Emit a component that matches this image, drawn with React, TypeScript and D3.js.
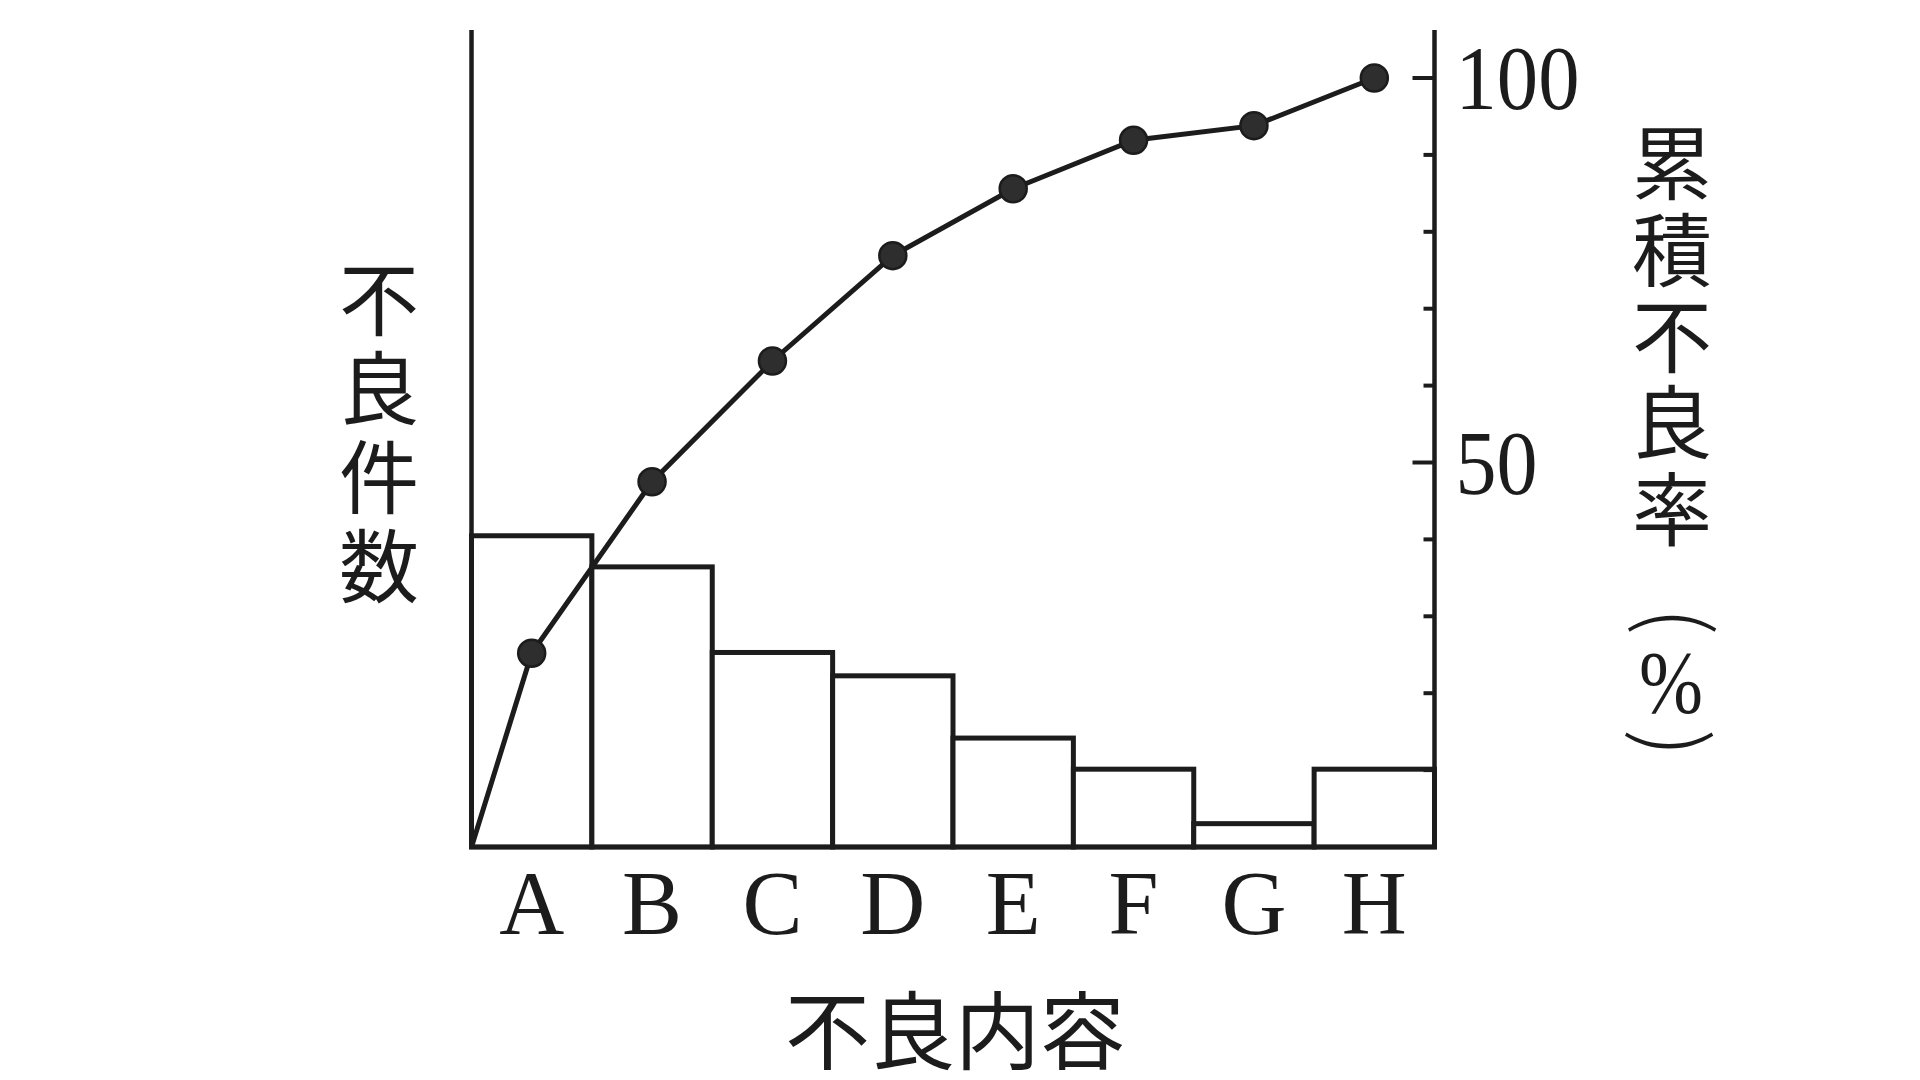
import React from 'react';
import * as d3 from 'd3';

// 不良内容ごとの件数（パレート図）
const categories = ['A', 'B', 'C', 'D', 'E', 'F', 'G', 'H'];
const defectCounts = [40, 36, 25, 22, 14, 10, 3, 10];
// 累積不良率 (%)
const cumulativePct = [25.2, 47.5, 63.2, 76.9, 85.6, 91.9, 93.8, 100];
const pctTicks = [10, 20, 30, 40, 50, 60, 70, 80, 90, 100];
const pctLabels = [50, 100];
const countMax = 105;

const leftTitle = '不良件数';
const rightTitle = '累積不良率';
const xTitle = '不良内容';

const SERIF = '"Liberation Serif", "DejaVu Serif", serif';
const CJK = '"Noto Sans CJK JP", "Noto Sans CJK SC", sans-serif';
const INK = '#1c1c1c';

const App: React.FC = () => {
  const width = 1920;
  const height = 1080;
  const left = 471.5;
  const right = 1434.5;
  const bottom = 847;
  const top = 30;

  const x = d3.scaleBand<string>().domain(categories).range([left, right]).padding(0);
  const yCount = d3.scaleLinear().domain([0, countMax]).range([bottom, top]);
  const yPct = d3.scaleLinear().domain([0, 100]).range([bottom, 78]);

  const cx = (c: string) => (x(c) ?? 0) + x.bandwidth() / 2;

  const linePts = [[left, yPct(0)] as [number, number]].concat(
    categories.map((c, i) => [cx(c), yPct(cumulativePct[i])] as [number, number])
  );
  const line = d3.line<[number, number]>().x(d => d[0]).y(d => d[1]);

  const vertical = (spacing: number): React.CSSProperties => ({
    writingMode: 'vertical-rl' as any,
    letterSpacing: `${spacing}px`,
  });

  return (
    <svg width={width} height={height} style={{ position: 'absolute', left: 0, top: 0, background: '#fff' }}>
      {/* bars */}
      {categories.map((c, i) => (
        <rect
          key={c}
          x={x(c)}
          y={yCount(defectCounts[i])}
          width={x.bandwidth()}
          height={bottom - yCount(defectCounts[i])}
          fill="#fff"
          stroke={INK}
          strokeWidth={5}
        />
      ))}

      {/* axes */}
      <line x1={left} x2={left} y1={top} y2={bottom} stroke={INK} strokeWidth={4.5} />
      <line x1={right} x2={right} y1={top} y2={bottom} stroke={INK} strokeWidth={4.5} />
      <line x1={left - 2} x2={right + 2} y1={bottom} y2={bottom} stroke={INK} strokeWidth={4.5} />

      {pctTicks.map(t => (
        <line
          key={t}
          x1={right}
          x2={right - (pctLabels.includes(t) ? 22 : 11)}
          y1={yPct(t)}
          y2={yPct(t)}
          stroke={INK}
          strokeWidth={4}
        />
      ))}
      {pctLabels.map(t => (
        <text
          key={t}
          x={right + 21}
          y={yPct(t) + 31}
          fontFamily={SERIF}
          fontSize={92}
          fill={INK}
          textLength={t === 100 ? 124 : 82}
          lengthAdjust="spacingAndGlyphs"
        >
          {t}
        </text>
      ))}

      {/* cumulative line */}
      <path d={line(linePts) ?? ''} fill="none" stroke={INK} strokeWidth={5} />
      {categories.map((c, i) => (
        <circle key={c} cx={cx(c)} cy={yPct(cumulativePct[i])} r={13.5} fill="#2e2e2e" stroke={INK} strokeWidth={2.5} />
      ))}

      {/* category labels */}
      {categories.map(c => (
        <text key={c} x={cx(c)} y={934} textAnchor="middle" fontFamily={SERIF} fontSize={90} fill={INK}>
          {c}
        </text>
      ))}

      {/* axis titles */}
      <text x={955} y={1025} textAnchor="middle" dominantBaseline="central" fontFamily={CJK} fontSize={85} fill={INK}>
        {xTitle}
      </text>
      <text x={379} y={259} fontFamily={CJK} fontSize={80} fill={INK} style={vertical(9)}>
        {leftTitle}
      </text>
      <text x={1672} y={123} fontFamily={CJK} fontSize={80} fill={INK} style={vertical(6.3)}>
        {rightTitle}
      </text>
      <text transform="translate(1683,621) rotate(90)" textAnchor="middle" dominantBaseline="central" fontFamily={CJK} fontWeight={300} fontSize={88} fill={INK}>
        (
      </text>
      <text x={1671} y={682} textAnchor="middle" dominantBaseline="central" fontFamily={SERIF} fontSize={88} fill={INK} textLength={64} lengthAdjust="spacingAndGlyphs">
        %
      </text>
      <text transform="translate(1680,743) rotate(90)" textAnchor="middle" dominantBaseline="central" fontFamily={CJK} fontWeight={300} fontSize={88} fill={INK}>
        )
      </text>
    </svg>
  );
};

export default App;
